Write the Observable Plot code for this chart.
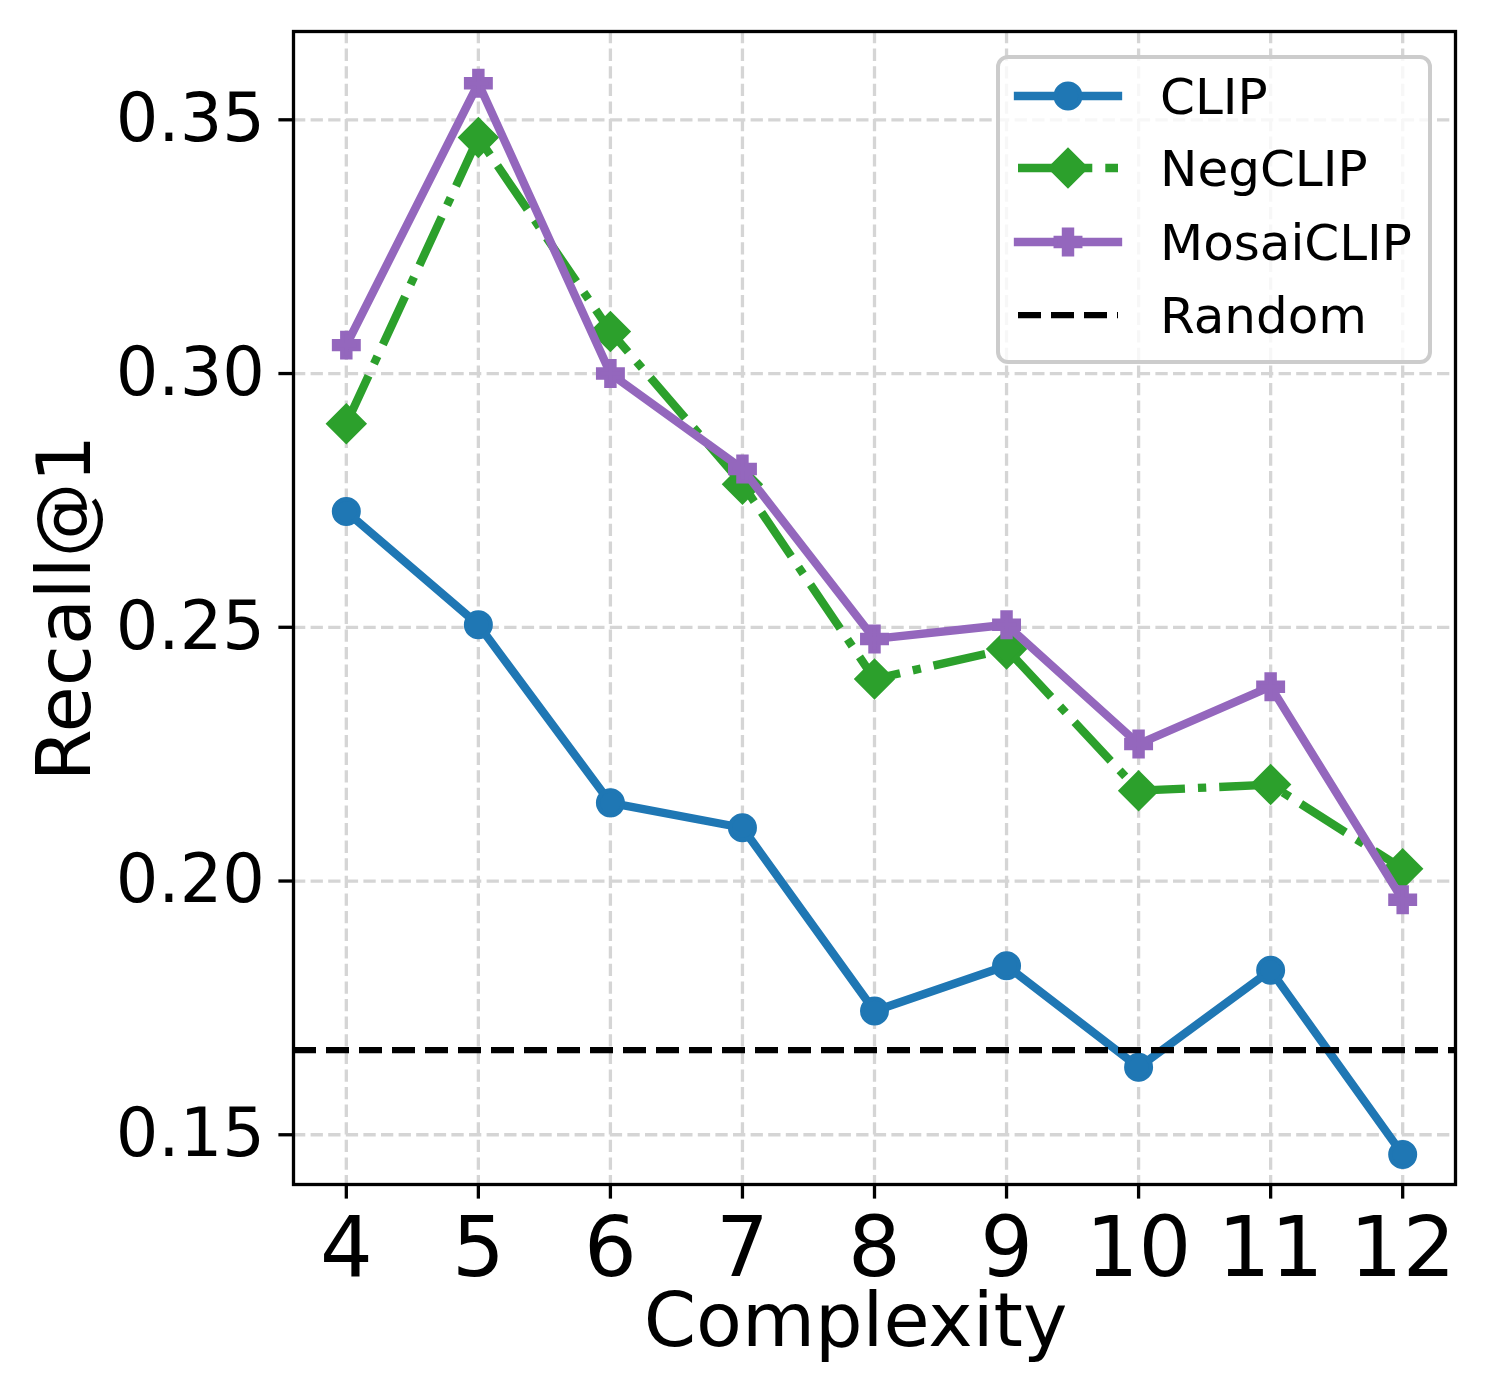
<!DOCTYPE html>
<html>
<head>
<meta charset="utf-8">
<script src="https://cdn.jsdelivr.net/npm/d3@7"></script>
<script src="https://cdn.jsdelivr.net/npm/@observablehq/plot@0.6"></script>
<style>
  html, body { margin: 0; padding: 0; background: #ffffff; }
  #chart { position: relative; width: 1485px; height: 1396px; font-family: "DejaVu Sans", sans-serif; }
  #legend { position: absolute; left: 996px; top: 55px; }
</style>
</head>
<body>
<div id="chart"></div>
<script>
// ---- data ----
const complexity = [4, 5, 6, 7, 8, 9, 10, 11, 12];
const clipValues = [0.2728, 0.2505, 0.2154, 0.2105, 0.1744, 0.1833, 0.1633, 0.1824, 0.1461];
const negclipValues = [0.2901, 0.3465, 0.3083, 0.2782, 0.2398, 0.2457, 0.2178, 0.2190, 0.2024];
const mosaiclipValues = [0.3056, 0.3572, 0.3000, 0.2812, 0.2477, 0.2505, 0.2270, 0.2383, 0.1963];
const randomBaseline = 1 / 6;
const seriesNames = ["CLIP", "NegCLIP", "MosaiCLIP"];
const randomName = "Random";
const xTicks = [4, 5, 6, 7, 8, 9, 10, 11, 12];
const yTicks = [0.15, 0.20, 0.25, 0.30, 0.35];
const xLabel = "Complexity";
const yLabel = "Recall@1";

// ---- styles ----
const MEW = 4.2; // marker edge width
const styles = {
  CLIP: { color: "#1f77b4", symbol: "circle", d3symbol: d3.symbolCircle, r: 12.4, dash: null },
  NegCLIP: { color: "#2ca02c", symbol: "diamond2", d3symbol: d3.symbolDiamond2, r: 16.0, dash: "53,13,8.3,13" },
  MosaiCLIP: { color: "#9467bd", symbol: "cross", d3symbol: d3.symbolCross, r: 10.4, dash: null }
};
const valuesBy = { CLIP: clipValues, NegCLIP: negclipValues, MosaiCLIP: mosaiclipValues };
const LW = 8.33;
const gridStyle = { stroke: "#d5d5d5", strokeOpacity: 1, strokeWidth: 3.3, strokeDasharray: "12.3,5.3" };

const marks = [
  Plot.gridX(xTicks, gridStyle),
  Plot.gridY(yTicks, gridStyle),
  Plot.axisX({ ticks: xTicks, tickSize: 14.6, tickPadding: 18, fontSize: 83, tickFormat: d => String(d), label: null, strokeWidth: 3.3, stroke: "black" }),
  Plot.axisY({ ticks: yTicks, tickSize: 14.6, tickPadding: 14, fontSize: 67, tickFormat: d3.format(".2f"), label: null, strokeWidth: 3.3, stroke: "black" })
];

for (const name of seriesNames) {
  const s = styles[name];
  const rows = complexity.map((c, i) => ({ complexity: c, recall: valuesBy[name][i] }));
  marks.push(Plot.line(rows, {
    x: "complexity", y: "recall", stroke: s.color, strokeWidth: LW,
    strokeDasharray: s.dash, strokeLinecap: s.dash ? "butt" : "square", strokeLinejoin: "round"
  }));
  marks.push(Plot.dot(rows, {
    x: "complexity", y: "recall", symbol: () => s.symbol, r: s.r, fill: s.color,
    stroke: s.color, strokeWidth: MEW, strokeLinejoin: "miter"
  }));
}

marks.push(Plot.ruleY([randomBaseline], { stroke: "black", strokeWidth: 6.25, strokeDasharray: "23,10" }));
marks.push(Plot.frame({ stroke: "black", strokeWidth: 3.3 }));
marks.push(Plot.text([xLabel], { text: d => d, frameAnchor: "bottom", dx: -19, dy: 137, lineAnchor: "middle", textAnchor: "middle", fontSize: 75, fill: "black" }));
marks.push(Plot.text([yLabel], { text: d => d, frameAnchor: "left", dx: -228, rotate: -90, lineAnchor: "middle", textAnchor: "middle", fontSize: 75, fill: "black" }));

const chart = Plot.plot({
  width: 1485,
  height: 1396,
  marginLeft: 293,
  marginRight: 30,
  marginTop: 31,
  marginBottom: 212,
  style: { fontFamily: "DejaVu Sans", background: "white", color: "black", overflow: "visible" },
  x: { type: "linear", domain: [3.6, 12.4] },
  y: { type: "linear", domain: [0.1402, 0.3674] },
  symbol: { type: "identity" },
  marks
});
document.getElementById("chart").appendChild(chart);

// ---- legend (overlay) ----
const legendW = 436, legendH = 310;
const leg = d3.select("#chart").append("svg")
  .attr("id", "legend")
  .attr("width", legendW)
  .attr("height", legendH)
  .style("font-family", "DejaVu Sans");
leg.append("rect")
  .attr("x", 2).attr("y", 2).attr("width", 432).attr("height", 305).attr("rx", 10)
  .attr("fill", "white").attr("fill-opacity", 0.8)
  .attr("stroke", "#cccccc").attr("stroke-width", 4);

const entries = [...seriesNames, randomName];
const rowY = [41, 113, 187, 260];
entries.forEach((name, i) => {
  const g = leg.append("g").attr("transform", `translate(0,${rowY[i]})`);
  let color = "black", dash = "23,10", width = 6.25, cap = "butt";
  if (name !== randomName) {
    color = styles[name].color; dash = styles[name].dash; width = LW; cap = dash ? "butt" : "square";
  }
  g.append("line").attr("x1", 22).attr("x2", 122).attr("y1", 0).attr("y2", 0)
    .attr("stroke", color).attr("stroke-width", width)
    .attr("stroke-dasharray", dash).attr("stroke-linecap", cap);
  if (name !== randomName) {
    const s = styles[name];
    g.append("path").attr("transform", "translate(72,0)")
      .attr("d", d3.symbol().type(s.d3symbol).size(Math.PI * s.r * s.r)())
      .attr("fill", s.color).attr("stroke", s.color)
      .attr("stroke-width", MEW).attr("stroke-linejoin", "miter");
  }
  g.append("text").attr("x", 164).attr("y", 0).attr("dy", "0.36em")
    .attr("font-size", 50).attr("fill", "black").text(name);
});
</script>
</body>
</html>
